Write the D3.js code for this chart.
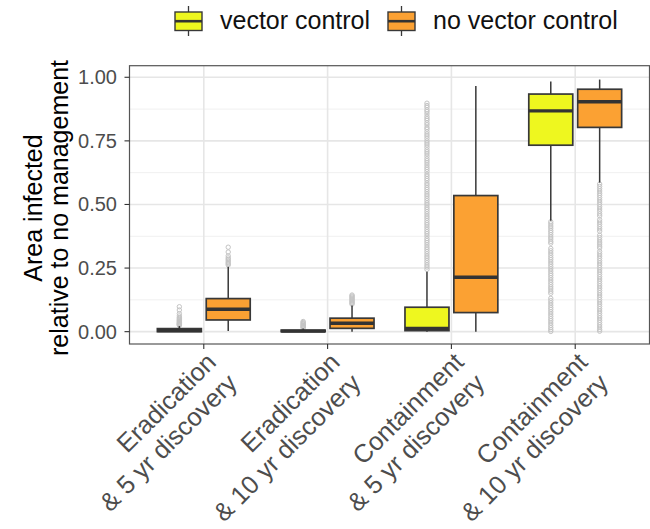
<!DOCTYPE html>
<html>
<head>
<meta charset="utf-8">
<script src="https://cdn.jsdelivr.net/npm/d3@7"></script>
<style>
  html, body { margin: 0; padding: 0; background: #fff; }
  svg { display: block; font-family: "Liberation Sans", Arial, Helvetica, sans-serif; }
</style>
</head>
<body>
<svg id="chart" width="650" height="529"></svg>
<script>
// Scenario categories (two-line labels)
const categories = [
  ["Eradication", "& 5 yr discovery"],
  ["Eradication", "& 10 yr discovery"],
  ["Containment", "& 5 yr discovery"],
  ["Containment", "& 10 yr discovery"]
];
const series = ["vector control", "no vector control"];
const seriesColors = ["#eef71f", "#fba133"];
const yTicks = [0, 0.25, 0.5, 0.75, 1];
const yTickLabels = ["0.00", "0.25", "0.50", "0.75", "1.00"];

// Box statistics, vector control
const vcLower  = [0.000, 0.000, 0.000, 0.436];
const vcQ1     = [0.000, 0.000, 0.004, 0.733];
const vcMedian = [0.004, 0.002, 0.013, 0.868];
const vcQ3     = [0.012, 0.006, 0.096, 0.934];
const vcUpper  = [0.022, 0.012, 0.236, 0.983];
const vcOutliers = [
  [0.098, 0.085, 0.071, 0.062, 0.056, 0.052, 0.048, 0.045, 0.042, 0.039, 0.036, 0.033, 0.031, 0.029, 0.027, 0.025],
  [0.040, 0.036, 0.032, 0.029, 0.026, 0.023, 0.020, 0.017, 0.015],
  [0.898, 0.889, 0.882, 0.872, 0.865, 0.856, 0.846, 0.838, 0.831, 0.821, 0.813, 0.803, 0.796, 0.786, 0.777, 0.769,
   0.760, 0.750, 0.742, 0.734, 0.725, 0.715, 0.707, 0.699, 0.690, 0.680, 0.672, 0.664, 0.655, 0.646, 0.638, 0.629,
   0.619, 0.611, 0.602, 0.594, 0.584, 0.576, 0.567, 0.559, 0.550, 0.541, 0.533, 0.524, 0.515, 0.506, 0.498, 0.489,
   0.481, 0.472, 0.463, 0.454, 0.446, 0.437, 0.428, 0.420, 0.411, 0.402, 0.393, 0.385, 0.376, 0.366, 0.358, 0.350,
   0.341, 0.332, 0.324, 0.315, 0.306, 0.297, 0.289, 0.280, 0.271, 0.262, 0.254, 0.245],
  [0.432, 0.424, 0.415, 0.407, 0.398, 0.390, 0.381, 0.372, 0.364, 0.355, 0.348,
   0.327, 0.318, 0.309, 0.300, 0.291, 0.283, 0.274, 0.265, 0.256, 0.247, 0.238, 0.229, 0.221, 0.212, 0.203,
   0.194, 0.185, 0.176, 0.168, 0.159, 0.151,
   0.131, 0.122, 0.113, 0.104, 0.095, 0.087, 0.078, 0.069, 0.060, 0.051, 0.043, 0.034, 0.025, 0.016, 0.008, 0.001]
];

// Box statistics, no vector control
const nvcLower  = [0.003, 0.000, 0.000, 0.586];
const nvcQ1     = [0.046, 0.013, 0.075, 0.803];
const nvcMedian = [0.088, 0.033, 0.214, 0.904];
const nvcQ3     = [0.130, 0.053, 0.535, 0.953];
const nvcUpper  = [0.255, 0.103, 0.966, 0.991];
const nvcOutliers = [
  [0.332, 0.313, 0.298, 0.290, 0.284, 0.278, 0.272, 0.267, 0.262],
  [0.144, 0.140, 0.136, 0.132, 0.128, 0.124, 0.120, 0.116, 0.112, 0.108],
  [],
  [0.580, 0.571, 0.562, 0.553, 0.544, 0.536, 0.527, 0.518, 0.509, 0.500, 0.491, 0.482, 0.473, 0.463, 0.455,
   0.440, 0.431, 0.422, 0.413, 0.404, 0.395,
   0.379, 0.370, 0.361, 0.352, 0.344, 0.336, 0.329,
   0.315, 0.306, 0.297, 0.288, 0.279, 0.270, 0.261, 0.252, 0.243, 0.234, 0.225, 0.216, 0.207, 0.198, 0.189,
   0.180, 0.171, 0.162, 0.153, 0.144, 0.135, 0.126, 0.117, 0.108, 0.099, 0.090, 0.081, 0.072, 0.063, 0.054,
   0.045, 0.036, 0.027, 0.018, 0.009, 0.002]
];

const stats = [
  { lower: vcLower, q1: vcQ1, median: vcMedian, q3: vcQ3, upper: vcUpper, outliers: vcOutliers },
  { lower: nvcLower, q1: nvcQ1, median: nvcMedian, q3: nvcQ3, upper: nvcUpper, outliers: nvcOutliers }
];

const svg = d3.select("#chart");
const panel = { left: 129.5, right: 649.5, top: 65.7, bottom: 344 };

const catIndex = d3.range(categories.length);
const x = d3.scalePoint().domain(catIndex).range([panel.left, panel.right]).padding(0.6);
const y = d3.scaleLinear().domain([-0.0485, 1.0455]).range([panel.bottom, panel.top]);
const dodge = d3.scaleBand().domain(d3.range(series.length))
  .range([-x.step() * 0.375, x.step() * 0.375]).paddingInner(0.1);
const boxW = dodge.bandwidth();

// Panel background and grid
svg.append("rect")
  .attr("x", panel.left).attr("y", panel.top)
  .attr("width", panel.right - panel.left).attr("height", panel.bottom - panel.top)
  .attr("fill", "#fff");

const minor = [0.125, 0.375, 0.625, 0.875];
svg.append("g").selectAll("line").data(minor).join("line")
  .attr("x1", panel.left).attr("x2", panel.right)
  .attr("y1", d => y(d)).attr("y2", d => y(d))
  .attr("stroke", "#f0f0f0").attr("stroke-width", 1);
svg.append("g").selectAll("line").data(yTicks).join("line")
  .attr("x1", panel.left).attr("x2", panel.right)
  .attr("y1", d => y(d)).attr("y2", d => y(d))
  .attr("stroke", "#e6e6e6").attr("stroke-width", 1.6);
svg.append("g").selectAll("line").data(catIndex).join("line")
  .attr("x1", d => x(d)).attr("x2", d => x(d))
  .attr("y1", panel.top).attr("y2", panel.bottom)
  .attr("stroke", "#e6e6e6").attr("stroke-width", 1.6);

// Boxplots
series.forEach((s, si) => {
  const st = stats[si];
  const g = svg.append("g");
  catIndex.forEach(ci => {
    const cx = x(ci) + dodge(si) + boxW / 2;
    // outliers
    g.append("g").selectAll("circle").data(st.outliers[ci]).join("circle")
      .attr("cx", cx).attr("cy", d => y(d)).attr("r", 2.2)
      .attr("fill", "none").attr("stroke", "#c4c4c4").attr("stroke-width", 1);
    // whiskers
    g.append("line").attr("x1", cx).attr("x2", cx)
      .attr("y1", y(st.upper[ci])).attr("y2", y(st.q3[ci]))
      .attr("stroke", "#383838").attr("stroke-width", 1.5);
    g.append("line").attr("x1", cx).attr("x2", cx)
      .attr("y1", y(st.q1[ci])).attr("y2", y(st.lower[ci]))
      .attr("stroke", "#383838").attr("stroke-width", 1.5);
    // box
    g.append("rect")
      .attr("x", cx - boxW / 2).attr("width", boxW)
      .attr("y", y(st.q3[ci])).attr("height", Math.max(0, y(st.q1[ci]) - y(st.q3[ci])))
      .attr("fill", seriesColors[si]).attr("stroke", "#383838").attr("stroke-width", 1.7);
    // median
    g.append("line")
      .attr("x1", cx - boxW / 2).attr("x2", cx + boxW / 2)
      .attr("y1", y(st.median[ci])).attr("y2", y(st.median[ci]))
      .attr("stroke", "#333").attr("stroke-width", 3.4);
  });
});

// Panel border
svg.append("rect")
  .attr("x", panel.left).attr("y", panel.top)
  .attr("width", panel.right - panel.left).attr("height", panel.bottom - panel.top)
  .attr("fill", "none").attr("stroke", "#555").attr("stroke-width", 1.2);

// Y axis
const yAxis = svg.append("g");
yAxis.selectAll("line").data(yTicks).join("line")
  .attr("x1", panel.left - 5).attr("x2", panel.left)
  .attr("y1", d => y(d)).attr("y2", d => y(d))
  .attr("stroke", "#333").attr("stroke-width", 1.1);
yAxis.selectAll("text").data(yTicks).join("text")
  .attr("x", 117).attr("y", d => y(d)).attr("dy", "0.35em")
  .attr("text-anchor", "end").attr("font-size", 20).attr("fill", "#4d4d4d")
  .text((d, i) => yTickLabels[i]);

// X axis
const xAxis = svg.append("g");
xAxis.selectAll("line").data(catIndex).join("line")
  .attr("x1", d => x(d)).attr("x2", d => x(d))
  .attr("y1", panel.bottom).attr("y2", panel.bottom + 5)
  .attr("stroke", "#333").attr("stroke-width", 1.1);
const xl = xAxis.selectAll("g.lab").data(catIndex).join("g")
  .attr("class", "lab")
  .attr("transform", d => `translate(${x(d)},350) rotate(-45)`);
const xt = xl.append("text").attr("text-anchor", "end").attr("font-size", 25.5).attr("fill", "#4d4d4d");
xt.append("tspan").attr("x", 0).attr("y", 19.5).text(d => categories[d][0]);
xt.append("tspan").attr("x", 0).attr("y", 19.5 + 29.5).text(d => categories[d][1]);

// Y title
const yt = svg.append("text").attr("transform", "translate(42,208) rotate(-90)")
  .attr("text-anchor", "middle").attr("font-size", 25).attr("fill", "#000");
yt.append("tspan").attr("x", 0).attr("y", 0).text("Area infected");
yt.append("tspan").attr("x", 0).attr("y", 26).text("relative to no management");

// Legend
const legendX = [175, 388];
const lg = svg.append("g");
series.forEach((s, si) => {
  const kx = legendX[si], kw = 27;
  const k = lg.append("g");
  k.append("line").attr("x1", kx + kw / 2).attr("x2", kx + kw / 2).attr("y1", 6).attr("y2", 36)
    .attr("stroke", "#383838").attr("stroke-width", 1.3);
  k.append("rect").attr("x", kx).attr("y", 12).attr("width", kw).attr("height", 18.5)
    .attr("fill", seriesColors[si]).attr("stroke", "#383838").attr("stroke-width", 1.4);
  k.append("line").attr("x1", kx).attr("x2", kx + kw).attr("y1", 21.2).attr("y2", 21.2)
    .attr("stroke", "#333").attr("stroke-width", 2.6);
  lg.append("text").attr("x", kx + 45).attr("y", 29).attr("font-size", 25).attr("fill", "#111").text(s);
});
</script>
</body>
</html>
